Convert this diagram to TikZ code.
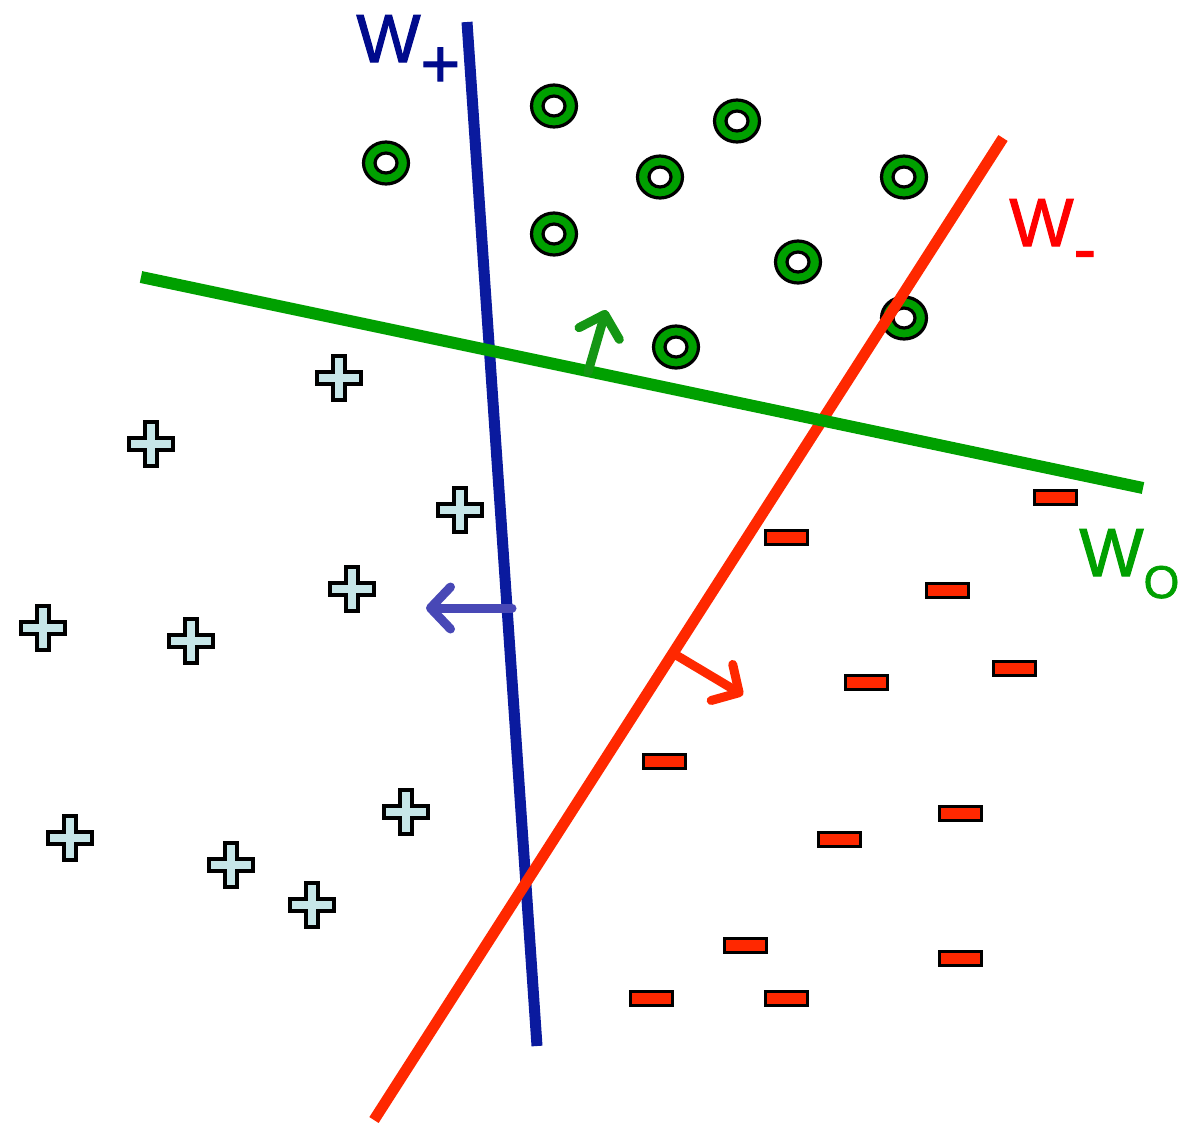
\documentclass[tikz,border=0pt]{standalone}
\usepackage{fontspec}
\setmainfont{Liberation Sans}
\newfontfamily\lblfont[FakeBold=1.5]{Liberation Sans}
\usetikzlibrary{arrows.meta, shapes.geometric}
\definecolor{BL}{RGB}{10,26,158}
\definecolor{BT}{RGB}{0,10,140}
\definecolor{BA}{RGB}{72,72,182}
\definecolor{GL}{RGB}{0,160,0}
\definecolor{GA}{RGB}{20,150,20}
\definecolor{RL}{RGB}{255,40,0}
\definecolor{RT}{RGB}{255,0,0}
\definecolor{PF}{RGB}{198,230,232}

\begin{document}
\begin{tikzpicture}[
  x=0.5pt, y=-0.5pt,
  ring/.style={ellipse, draw=black, line width=1.6pt, fill=GL,
               minimum width=22.5pt, minimum height=21pt, inner sep=0pt,
               path picture={\filldraw[fill=white, draw=black, line width=1.6pt]
                 (path picture bounding box.center) ellipse [x radius=11, y radius=10];}},
  plus/.style={minimum size=25pt, inner sep=0pt,
               path picture={\filldraw[fill=PF, draw=black, line width=1.6pt]
                 ([shift={(-6,-22)}]path picture bounding box.center)
                 -- ++(12,0) -- ++(0,16) -- ++(16,0) -- ++(0,12) -- ++(-16,0)
                 -- ++(0,16) -- ++(-12,0) -- ++(0,-16) -- ++(-16,0) -- ++(0,-12)
                 -- ++(16,0) -- cycle;}},
  minus/.style={rectangle, draw=black, line width=1.5pt, fill=RL,
                minimum width=21pt, minimum height=7pt, inner sep=0pt},
  hyp/.style={line width=5.5pt},
  nrm/.style={line width=4.5pt, line cap=round,
              -{Straight Barb[length=10pt, width=21pt, round]}},
  lbl/.style={anchor=base west, inner sep=0pt, font=\lblfont\fontsize{34}{34}\selectfont}
]
\useasboundingbox (0,0) rectangle (1203,1126);

% circles
\foreach \x/\y [count=\i] in {386/163, 554/106, 737/121, 660/177, 904/177,
                               554/234, 798/262, 904/318, 676/347}
  \node[ring] (o\i) at (\x,\y) {};

% pluses
\foreach \x/\y [count=\i] in {339/378, 151/444, 460/510, 352/589, 43/628,
                               191/641, 406/812, 70/838, 231/865, 312/905}
  \node[plus] (p\i) at (\x,\y) {};

% minuses
\foreach \x/\y [count=\i] in {786/537, 1055/497, 947/590, 866/682, 1014/668,
                               664/761, 960/813, 839/839, 745/945, 960/958,
                               651/998, 786/998}
  \node[minus] (m\i) at (\x,\y) {};

% separating lines
\coordinate (bt) at (467,22);   \coordinate (bb) at (537,1046);
\coordinate (rt) at (1003,138); \coordinate (rb) at (374,1120);
\coordinate (gl) at (141,277);  \coordinate (gr) at (1143,488);
\draw[hyp, BL] (bt) -- (bb);
\draw[hyp, RL] (rt) -- (rb);
\draw[hyp, line width=6pt, GL] (gl) -- (gr);

% normals
\coordinate (bn0) at (512,608); \coordinate (bn1) at (426,608);
\coordinate (gn0) at (588,372); \coordinate (gn1) at (606,310);
\coordinate (rn0) at (676,655); \coordinate (rn1) at (743,695);
\draw[nrm, BA] (bn0) -- (bn1);
\draw[nrm, GA] (gn0) -- (gn1);
\draw[nrm, RL] (rn0) -- (rn1);

% labels
\node[lbl, text=BT] (wp) at (356,62)   {W\raisebox{-12.5pt}{+}};
\node[lbl, text=RT] (wm) at (1009,246) {W\raisebox{-13pt}{-}};
\node[lbl, text=GL] (wo) at (1079,576) {W\raisebox{-11pt}{\fontsize{23}{23}\selectfont O}};
\end{tikzpicture}
\end{document}
